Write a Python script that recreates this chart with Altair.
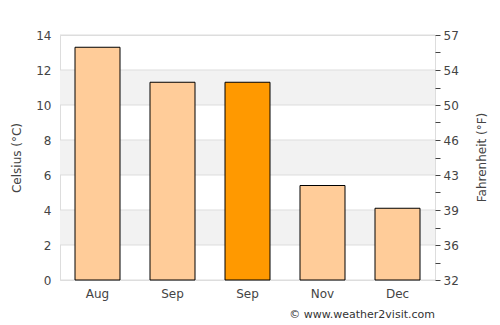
import json
import altair as alt
import pandas as pd

months = ["Aug", "Sep", "Sep", "Nov", "Dec"]
celsius = [13.3, 11.3, 11.3, 5.4, 4.1]
highlight_index = 2
band_lo = [2, 6, 10]
band_hi = [4, 8, 12]
grid_values = [0, 2, 4, 6, 8, 10, 12, 14]
right_ticks = list(range(0, 15))

df = pd.DataFrame({"idx": list(range(len(months))), "month": months, "c": celsius})
bands_df = pd.DataFrame({"lo": band_lo, "hi": band_hi})
grid_df = pd.DataFrame({"v": grid_values})

FONT = "DejaVu Sans"
LBL = "#444444"
ysc = alt.Scale(domain=[0, 14], nice=False, zero=True)
label_expr = json.dumps(months) + "[datum.value]"

left_axis = alt.Axis(title="Celsius (°C)", values=grid_values, ticks=False, domain=False,
                     grid=False, labelPadding=9, labelFontSize=12, labelColor=LBL,
                     labelFont=FONT, titleFont=FONT, titleFontSize=12, titleFontWeight="normal",
                     titleColor=LBL, titlePadding=12)

bands = alt.Chart(bands_df).mark_rect(color="#f2f2f2").encode(
    y=alt.Y("lo:Q", scale=ysc, axis=left_axis), y2="hi:Q"
)
grid = alt.Chart(grid_df).mark_rule(color="#dddddd", strokeWidth=1).encode(
    y=alt.Y("v:Q", scale=ysc, axis=left_axis)
)
bars = alt.Chart(df).mark_bar(stroke="black", strokeWidth=1).encode(
    x=alt.X("idx:O", title=None,
            scale=alt.Scale(paddingInner=0.4, paddingOuter=0.2),
            axis=alt.Axis(labelExpr=label_expr, labelAngle=0, ticks=False, domain=False,
                          labelPadding=8, labelFontSize=12, labelColor=LBL, labelFont=FONT)),
    y=alt.Y("c:Q", scale=ysc, axis=left_axis),
    color=alt.condition(alt.datum.idx == highlight_index, alt.value("#ff9900"), alt.value("#ffcc99")),
)
right = alt.Chart(df).mark_point(opacity=0).encode(
    y=alt.Y("c:Q", scale=ysc,
            axis=alt.Axis(orient="right", title="Fahrenheit (°F)", values=right_ticks,
                          labelExpr="datum.value % 2 == 0 ? format(round(datum.value * 9 / 5 + 32), 'd') : ''",
                          ticks=True, tickSize=5, tickColor=LBL, domain=False, grid=False,
                          labelPadding=3, labelFontSize=12, labelColor=LBL, labelFont=FONT,
                          titleFont=FONT, titleFontSize=12, titleFontWeight="normal",
                          titleAngle=270, titleAlign="center", titleBaseline="middle",
                          titleX=46, titleY=122, titleColor=LBL))
)

chart = alt.layer(alt.layer(bands, grid, bars), right).resolve_scale(y="independent").properties(
    width=375, height=245,
    autosize=alt.AutoSizeParams(type="none"),
    padding={"left": 60, "top": 35, "right": 65, "bottom": 45},
    title=alt.TitleParams("© www.weather2visit.com", orient="bottom", anchor="end", frame="group",
                          fontSize=11, font=FONT, fontWeight="normal", color="#333333", offset=10),
).configure_view(stroke="#dddddd").configure(background="white")

chart.save("out.html", embed_options={"renderer": "svg", "actions": False})
